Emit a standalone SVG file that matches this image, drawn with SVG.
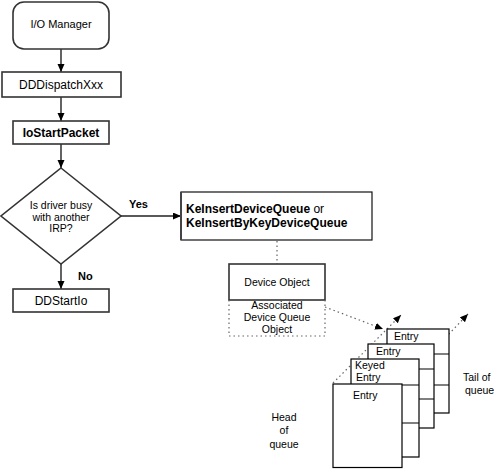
<svg xmlns="http://www.w3.org/2000/svg" width="495" height="469" viewBox="0 0 495 469">
<defs>
<style>
text{font-family:"Liberation Sans",Arial,sans-serif;fill:#000}
.box{fill:#fff;stroke:#333;stroke-width:1.6}
.t12{font-size:12px}
.t11{font-size:11px}
.t105{font-size:10.5px}
.b{font-weight:bold}
.mid{text-anchor:middle}
.conn{stroke:#222;stroke-width:1.4;fill:none}
.dot{stroke:#666;stroke-width:1.2;stroke-dasharray:1.5 3;fill:none}
.card{fill:#fff;stroke:#000;stroke-width:1.2}
.seg{stroke:#000;stroke-width:1.2}
</style>
<marker id="ah" markerUnits="userSpaceOnUse" markerWidth="9" markerHeight="8" refX="8" refY="3.5" orient="auto">
<path d="M0,0 L8,3.5 L0,7 z" fill="#000"/>
</marker>
</defs>
<rect width="495" height="469" fill="#fff"/>

<g id="connectors">
<line class="conn" x1="61" y1="49" x2="61" y2="72" marker-end="url(#ah)"/>
<line class="conn" x1="61" y1="97" x2="61" y2="121" marker-end="url(#ah)"/>
<line class="conn" x1="61" y1="144" x2="61" y2="168" marker-end="url(#ah)"/>
<line class="conn" x1="61" y1="264" x2="61" y2="289" marker-end="url(#ah)"/>
<line class="conn" x1="121" y1="216" x2="181" y2="216" stroke-width="1.1" marker-end="url(#ah)"/>
<line class="dot" x1="277" y1="241" x2="277" y2="264"/>
<line class="dot" x1="325" y1="307" x2="383" y2="329" marker-end="url(#ah)"/>
<line class="dot" x1="333" y1="383" x2="401" y2="315" marker-end="url(#ah)"/>
<line class="dot" x1="402" y1="383" x2="468" y2="314" marker-end="url(#ah)"/>
</g>

<g id="io-manager">
<rect class="box" x="13" y="2" width="96" height="47" rx="11" ry="11"/>
<text class="t11 mid" x="61" y="28">I/O Manager</text>
</g>
<g id="dddispatch">
<rect class="box" x="2" y="72" width="119" height="25"/>
<text class="t12 mid" x="61" y="89">DDDispatchXxx</text>
</g>
<g id="iostartpacket">
<rect class="box" x="13" y="121" width="96" height="23"/>
<text class="t12 b mid" x="61" y="137">IoStartPacket</text>
</g>
<g id="decision">
<polygon class="box" points="61,168 121,216 61,264 1,216"/>
<text class="t105 mid" x="61" y="209">Is driver busy</text>
<text class="t105 mid" x="61" y="220.5">with another</text>
<text class="t105 mid" x="61" y="232">IRP?</text>
<text class="t11 b" x="129" y="207.5">Yes</text>
<text class="t11 b" x="78" y="280">No</text>
</g>
<g id="ddstartio">
<rect class="box" x="13" y="289" width="96" height="23"/>
<text class="t12 mid" x="61" y="305">DDStartIo</text>
</g>
<g id="keinsert">
<rect x="181" y="192" width="191" height="48" fill="#fff" stroke="#111" stroke-width="1.2"/>
<line x1="181" y1="192" x2="181" y2="240" stroke="#444" stroke-width="2"/>
<text class="t12" x="186" y="213"><tspan class="b">KeInsertDeviceQueue</tspan> or</text>
<text class="t12 b" x="186" y="227">KeInsertByKeyDeviceQueue</text>
</g>
<g id="device-object">
<rect class="box" x="229" y="264" width="96" height="36" stroke-width="2"/>
<text class="t105 mid" x="277" y="286">Device Object</text>
</g>
<g id="device-queue-object">
<path class="dot" d="M229,300 V336 H325 V300"/>
<text class="t105 mid" x="277" y="309">Associated</text>
<text class="t105 mid" x="277" y="321">Device Queue</text>
<text class="t105 mid" x="277" y="333">Object</text>
</g>

<g id="queue">
<rect class="card" x="387" y="329" width="62" height="84"/>
<line class="seg" x1="387" y1="354" x2="449" y2="354"/>
<line class="seg" x1="387" y1="385" x2="449" y2="385"/>
<text class="t105" x="394" y="340">Entry</text>
<rect class="card" x="368" y="344" width="66" height="84"/>
<line class="seg" x1="368" y1="369" x2="434" y2="369"/>
<line class="seg" x1="368" y1="399" x2="434" y2="399"/>
<text class="t105" x="376" y="355">Entry</text>
<rect class="card" x="351" y="359" width="68" height="98"/>
<line class="seg" x1="351" y1="385" x2="419" y2="385"/>
<line class="seg" x1="351" y1="423" x2="419" y2="423"/>
<text class="t105" x="355" y="368.5">Keyed</text>
<text class="t105" x="356" y="381">Entry</text>
<rect class="card" x="333" y="384" width="69" height="83.5"/>
<text class="t105" x="353" y="399">Entry</text>
</g>

<g id="labels">
<text class="t105 mid" x="284" y="421">Head</text>
<text class="t105 mid" x="284" y="434">of</text>
<text class="t105 mid" x="284" y="448">queue</text>
<text class="t105" x="463" y="381">Tail of</text>
<text class="t105" x="465" y="394">queue</text>
</g>
</svg>
